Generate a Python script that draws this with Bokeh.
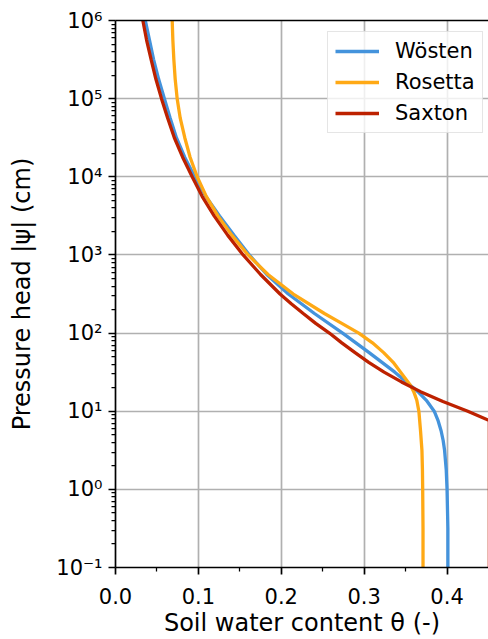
from bokeh.plotting import figure
from bokeh.models import (Range1d, FixedTicker, CustomJSTickFormatter, LinearAxis,
                          Legend, LegendItem, ColumnDataSource)
from bokeh.embed import file_html
from bokeh.resources import INLINE

# ---- data ----
psi_wosten = [1e6, 5.62e5, 3.16e5, 1.78e5, 1e5, 5.62e4, 3.16e4, 1.78e4, 1e4, 5620,
              3160, 1780, 1000, 562, 316, 178, 100, 56.2, 31.6, 21.4, 17.8, 13.8,
              10, 7.5, 5.62, 4.22, 3.16, 1.78, 1, 0.316, 0.1]
theta_wosten = [0.036, 0.041, 0.046, 0.052, 0.059, 0.066, 0.0735, 0.0835, 0.0955,
                0.109, 0.1255, 0.143, 0.1615, 0.1825, 0.2085, 0.240, 0.274, 0.306,
                0.337, 0.356, 0.3648, 0.375, 0.3845, 0.3893, 0.3928, 0.3953, 0.397,
                0.399, 0.400, 0.401, 0.401]

psi_rosetta = [1e6, 5.62e5, 3.16e5, 1.78e5, 1e5, 5.62e4, 3.16e4, 1.78e4, 1e4, 5620,
               3160, 1780, 1000, 562, 316, 178, 133, 100, 75, 56.2, 42.2, 31.6,
               21.4, 17.8, 13.8, 10, 5.62, 3.16, 1.78, 1, 0.316, 0.1]
theta_rosetta = [0.0684, 0.0692, 0.0704, 0.072, 0.0744, 0.0781, 0.0836, 0.090,
                 0.0985, 0.1095, 0.1235, 0.1405, 0.160, 0.184, 0.2145, 0.252,
                 0.273, 0.2935, 0.310, 0.3235, 0.335, 0.344, 0.356, 0.3598,
                 0.3635, 0.366, 0.368, 0.3697, 0.3703, 0.3706, 0.371, 0.371]

psi_saxton = [1e6, 5.62e5, 3.16e5, 1.78e5, 1e5, 5.62e4, 3.16e4, 1.78e4, 1e4, 5620,
              3160, 1780, 1000, 562, 316, 237, 178, 133, 100, 75, 56.2, 42.2, 31.6,
              23.7, 17.8, 13.3, 10, 7.6, 0.1]
theta_saxton = [0.033, 0.0375, 0.043, 0.0487, 0.0555, 0.063, 0.071, 0.081, 0.0925,
                0.1045, 0.119, 0.1355, 0.154, 0.175, 0.1985, 0.212, 0.2265, 0.2415,
                0.258, 0.273, 0.289, 0.3055, 0.324, 0.345, 0.368, 0.395, 0.425,
                0.451, 0.451]

series_names = ["Wösten", "Rosetta", "Saxton"]
series_colors = ["#4493DC", "#FFA915", "#BD2100"]

x_ticks = [0.0, 0.1, 0.2, 0.3, 0.4]
x_minor = [0.05, 0.15, 0.25, 0.35]
y_ticks = [1e-1, 1e0, 1e1, 1e2, 1e3, 1e4, 1e5, 1e6]
y_minor = [m * d for d in [1e-1, 1e0, 1e1, 1e2, 1e3, 1e4, 1e5] for m in range(2, 10)]

FONT = "DejaVu Sans"
FS_TICK = "21px"
FS_LABEL = "24px"

p = figure(width=488, height=639, output_backend="svg", toolbar_location=None,
           y_axis_type="log", x_range=Range1d(0, 0.45), y_range=Range1d(0.1, 1e6),
           min_border_left=115, min_border_right=0, min_border_top=20,
           min_border_bottom=72)
p.outline_line_color = None
p.background_fill_color = "white"
p.border_fill_color = "white"

src_w = ColumnDataSource(dict(x=theta_wosten, y=psi_wosten))
src_r = ColumnDataSource(dict(x=theta_rosetta, y=psi_rosetta))
src_s = ColumnDataSource(dict(x=theta_saxton, y=psi_saxton))

r1 = p.line("x", "y", source=src_w, line_color=series_colors[0], line_width=3.3)
r2 = p.line("x", "y", source=src_r, line_color=series_colors[1], line_width=3.3)
r3 = p.line("x", "y", source=src_s, line_color=series_colors[2], line_width=3.3)

# axes
for ax in (p.xaxis[0], p.yaxis[0]):
    ax.axis_line_width = 1.7
    ax.axis_line_color = "black"
    ax.major_tick_line_width = 1.7
    ax.major_tick_line_color = "black"
    ax.major_tick_in = 0
    ax.major_tick_out = 7
    ax.minor_tick_line_width = 1.25
    ax.minor_tick_line_color = "black"
    ax.minor_tick_in = 0
    ax.minor_tick_out = 4
    ax.major_label_text_font = FONT
    ax.major_label_text_font_size = FS_TICK
    ax.major_label_text_color = "black"
    ax.axis_label_text_font = FONT
    ax.axis_label_text_font_size = FS_LABEL
    ax.axis_label_text_font_style = "normal"
    ax.axis_label_text_color = "black"

p.xaxis.ticker = FixedTicker(ticks=x_ticks, minor_ticks=x_minor)
p.yaxis.ticker = FixedTicker(ticks=y_ticks, minor_ticks=y_minor)
p.xaxis.axis_label = "Soil water content θ (-)"
p.yaxis.axis_label = "Pressure head |ψ| (cm)"
p.xaxis.major_label_standoff = 13
p.xaxis.axis_label_standoff = 2
p.yaxis.major_label_standoff = 6
p.yaxis.axis_label_standoff = 17
p.xaxis.formatter = CustomJSTickFormatter(code="return tick.toFixed(1);")
p.yaxis.formatter = CustomJSTickFormatter(code="""
const sup = {"-": "\u207b", "0": "\u2070", "1": "\u00b9", "2": "\u00b2", "3": "\u00b3",
             "4": "\u2074", "5": "\u2075", "6": "\u2076", "7": "\u2077", "8": "\u2078", "9": "\u2079"};
const e = Math.round(Math.log10(tick));
return "10" + String(e).split("").map(c => sup[c]).join("");
""")

# top spine (no ticks, no labels)
top = LinearAxis(ticker=FixedTicker(ticks=[]), major_tick_line_color=None,
                 minor_tick_line_color=None, axis_line_width=1.7,
                 axis_line_color="black")
p.add_layout(top, "above")

# grid
p.xgrid.grid_line_color = "#b0b0b0"
p.xgrid.grid_line_width = 1.7
p.ygrid.grid_line_color = "#b0b0b0"
p.ygrid.grid_line_width = 1.7
p.ygrid.minor_grid_line_color = None

legend = Legend(items=[LegendItem(label=series_names[0], renderers=[r1]),
                       LegendItem(label=series_names[1], renderers=[r2]),
                       LegendItem(label=series_names[2], renderers=[r3])],
                location=(212, 434), margin=0, padding=7, spacing=7,
                glyph_width=44, glyph_height=22, label_standoff=16,
                label_text_font=FONT, label_text_font_size=FS_TICK,
                label_text_color="black",
                border_line_color="#cccccc", border_line_width=1.5,
                background_fill_color="white", background_fill_alpha=0.8)
p.add_layout(legend, "center")

open("out.html", "w").write(file_html(p, INLINE))
